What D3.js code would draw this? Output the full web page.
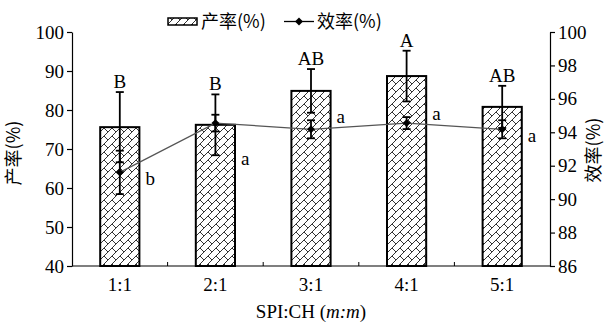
<!DOCTYPE html>
<html>
<head>
<meta charset="utf-8">
<script src="https://cdn.jsdelivr.net/npm/d3@7"></script>
<style>
  body { margin: 0; background: #fff; }
  text { font-family: "Liberation Serif", "Times New Roman", "Noto Sans CJK SC", serif; fill: #000; }
</style>
</head>
<body>
<svg id="chart" width="609" height="325"></svg>
<script>
// data
var categories = ["1:1", "2:1", "3:1", "4:1", "5:1"]
var yield_vals = [75.6, 76.2, 84.9, 88.7, 80.8]
var yield_err = [9.0, 7.8, 5.6, 6.5, 5.4]
var yield_letters = ["B", "B", "AB", "A", "AB"]
var eff_vals = [91.6, 94.55, 94.18, 94.55, 94.18]
var eff_err = [1.3, 0.5, 0.54, 0.36, 0.54]
var eff_letters = ["b", "a", "a", "a", "a"]
var eff_letter_at = [91.2, 92.4, 94.9, 95.1, 93.8]
var left_ticks = [40, 50, 60, 70, 80, 90, 100]
var right_ticks = [86, 88, 90, 92, 94, 96, 98, 100]

var svg = d3.select("#chart")
var plot_l = 72, plot_r = 550, plot_t = 32, plot_b = 266

var x = d3.scaleBand().domain(categories).range([plot_l, plot_r]).padding(0)
var y = d3.scaleLinear().domain([40, 100]).range([plot_b, plot_t])
var y2 = d3.scaleLinear().domain([86, 100]).range([plot_b, plot_t])
var bar_w = x.bandwidth() * 0.41
var cx = function(c){ return x(c) + x.bandwidth() / 2 }

// diagonal brick hatch
var defs = svg.append("defs")
var pat = defs.append("pattern")
  .attr("id", "brick")
  .attr("patternUnits", "userSpaceOnUse")
  .attr("width", 8)
  .attr("height", 8)
pat.append("rect").attr("width", 8).attr("height", 8).attr("fill", "#fff")
pat.append("path")
  .attr("d", "M-1,9 L9,-1 M-1,1 L1,-1 M7,9 L9,7 M0,0 L4,4")
  .attr("stroke", "#333")
  .attr("stroke-width", 1)
  .attr("fill", "none")

// bars
svg.append("g").selectAll("rect")
  .data(categories)
  .join("rect")
    .attr("x", function(d){ return cx(d) - bar_w / 2 })
    .attr("y", function(d, i){ return y(yield_vals[i]) })
    .attr("width", bar_w)
    .attr("height", function(d, i){ return plot_b - y(yield_vals[i]) })
    .attr("fill", "url(#brick)")
    .attr("stroke", "#000")
    .attr("stroke-width", 2)

// bar error bars
var cap = 4
var bar_eb = svg.append("g").attr("stroke", "#000").attr("stroke-width", 1.8)
categories.forEach(function(c, i){
  var hi = y(yield_vals[i] + yield_err[i]), lo = y(yield_vals[i] - yield_err[i])
  bar_eb.append("line").attr("x1", cx(c)).attr("x2", cx(c)).attr("y1", hi).attr("y2", lo)
  bar_eb.append("line").attr("x1", cx(c) - cap).attr("x2", cx(c) + cap).attr("y1", hi).attr("y2", hi)
  bar_eb.append("line").attr("x1", cx(c) - cap).attr("x2", cx(c) + cap).attr("y1", lo).attr("y2", lo)
})

// efficiency line
svg.append("path")
  .datum(categories)
  .attr("fill", "none")
  .attr("stroke", "#555")
  .attr("stroke-width", 1.3)
  .attr("d", d3.line()
    .x(function(d){ return cx(d) })
    .y(function(d, i){ return y2(eff_vals[i]) }))

var eff_eb = svg.append("g").attr("stroke", "#000").attr("stroke-width", 1.8)
categories.forEach(function(c, i){
  var hi = y2(eff_vals[i] + eff_err[i]), lo = y2(eff_vals[i] - eff_err[i])
  eff_eb.append("line").attr("x1", cx(c)).attr("x2", cx(c)).attr("y1", hi).attr("y2", lo)
  eff_eb.append("line").attr("x1", cx(c) - cap).attr("x2", cx(c) + cap).attr("y1", hi).attr("y2", hi)
  eff_eb.append("line").attr("x1", cx(c) - cap).attr("x2", cx(c) + cap).attr("y1", lo).attr("y2", lo)
})

svg.append("g").selectAll("path")
  .data(categories)
  .join("path")
    .attr("d", d3.symbol(d3.symbolDiamond2, 40))
    .attr("transform", function(d, i){ return "translate(" + cx(d) + "," + y2(eff_vals[i]) + ")" })
    .attr("fill", "#000")

// letters
svg.append("g").selectAll("text")
  .data(categories)
  .join("text")
    .attr("x", function(d){ return cx(d) })
    .attr("y", function(d, i){ return y(yield_vals[i] + yield_err[i]) - 4 })
    .attr("text-anchor", "middle")
    .style("font-size", "19px")
    .text(function(d, i){ return yield_letters[i] })

svg.append("g").selectAll("text")
  .data(categories)
  .join("text")
    .attr("x", function(d){ return cx(d) + bar_w / 2 + 6 })
    .attr("y", function(d, i){ return y2(eff_letter_at[i]) + 6 })
    .style("font-size", "19px")
    .text(function(d, i){ return eff_letters[i] })

// axes
var ax_l = svg.append("g").attr("transform", "translate(" + plot_l + ",0)")
  .call(d3.axisLeft(y).tickValues(left_ticks).tickSize(5).tickPadding(3).tickSizeOuter(0))
var ax_r = svg.append("g").attr("transform", "translate(" + plot_r + ",0)")
  .call(d3.axisRight(y2).tickValues(right_ticks).tickSize(5).tickPadding(3).tickSizeOuter(0))
var ax_b = svg.append("g").attr("transform", "translate(0," + plot_b + ")")
  .call(d3.axisBottom(x).tickSize(0).tickPadding(12).tickSizeOuter(0))

;[ax_l, ax_r, ax_b].forEach(function(a){
  a.selectAll("path, line").attr("stroke", "#000").attr("stroke-width", 1.2)
  a.selectAll("text")
    .style("font-size", "19px")
    .style("font-family", "'Liberation Serif', 'Times New Roman', serif")
    .attr("fill", "#000")
})
ax_b.select("path.domain").attr("d", "M" + plot_l + ",0H" + plot_r)

// inner tick marks between categories
svg.append("g").selectAll("line")
  .data(categories.slice(1))
  .join("line")
    .attr("x1", function(d){ return x(d) })
    .attr("x2", function(d){ return x(d) })
    .attr("y1", plot_b)
    .attr("y2", plot_b - 4)
    .attr("stroke", "#000")
    .attr("stroke-width", 1)

// axis titles
svg.append("text")
  .attr("transform", "translate(20,153) rotate(-90)")
  .attr("text-anchor", "middle")
  .style("font-size", "18px")
  .style("font-family", "'Noto Sans CJK SC', sans-serif")
  .text("产率(%)")

svg.append("text")
  .attr("transform", "translate(600,150) rotate(-90)")
  .attr("text-anchor", "middle")
  .style("font-size", "18px")
  .style("font-family", "'Noto Sans CJK SC', sans-serif")
  .text("效率(%)")

var xt = svg.append("text")
  .attr("x", (plot_l + plot_r) / 2)
  .attr("y", 318)
  .attr("text-anchor", "middle")
  .style("font-size", "19px")
xt.append("tspan").text("SPI:CH (")
xt.append("tspan").style("font-style", "italic").text("m:m")
xt.append("tspan").text(")")

// legend
var lg = svg.append("g")
lg.append("rect").attr("x", 168).attr("y", 18).attr("width", 29).attr("height", 7)
  .attr("fill", "url(#brick)").attr("stroke", "#000").attr("stroke-width", 1.5)
lg.append("text").attr("x", 201).attr("y", 28).style("font-size", "18px")
  .style("font-family", "'Noto Sans CJK SC', sans-serif").text("产率(%)")
lg.append("line").attr("x1", 284).attr("x2", 314).attr("y1", 21.5).attr("y2", 21.5)
  .attr("stroke", "#000").attr("stroke-width", 1.3)
lg.append("path").attr("d", d3.symbol(d3.symbolDiamond2, 40))
  .attr("transform", "translate(299,21.5)").attr("fill", "#000")
lg.append("text").attr("x", 317).attr("y", 28).style("font-size", "18px")
  .style("font-family", "'Noto Sans CJK SC', sans-serif").text("效率(%)")
</script>
</body>
</html>
